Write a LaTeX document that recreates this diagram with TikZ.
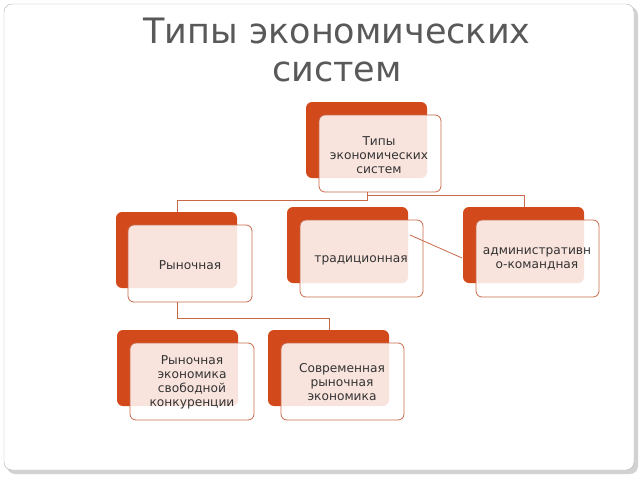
\documentclass[tikz,border=0pt]{standalone}
\usepackage{fontspec}
\setmainfont{DejaVu Sans}
\begin{document}
\begin{tikzpicture}[x=1pt,y=-1pt,
  back/.style={fill=dorange,rounded corners=6pt},
  front/.style={draw=lorange,line width=0.8pt,fill=white,fill opacity=0.85,rounded corners=6pt,text opacity=1,align=center,font=\fontsize{12.2}{14}\selectfont,text=black!80},
  link/.style={draw=lorange,line width=0.8pt}]
\definecolor{dorange}{HTML}{D2491C}
\definecolor{lorange}{HTML}{C86A4A}
\useasboundingbox (0,0) rectangle (640,480);
\fill[gray!35,rounded corners=8pt] (7,7) rectangle (638,474);
\draw[gray!60,fill=white,rounded corners=8pt] (4,4) rectangle (634,470);
\node[text=black!65,align=center,font=\fontsize{35}{38}\selectfont] (title) at (337,50) {Типы экономических\\систем};
\newcommand\ebox[9]{%
  \fill[back] (#1,#2) rectangle (#3,#4);
  \path[front] (#5,#6) rectangle (#7,#8) node[midway,draw=none,fill=none] (#9) {};}
\ebox{306}{102}{427}{178}{319}{115}{441}{192}{top}
\ebox{116}{212}{237}{288}{128}{225}{252}{302}{ryn}
\ebox{287}{207}{408}{283}{300}{220}{423}{297}{trad}
\ebox{463}{207}{584}{283}{476}{220}{599}{297}{adm}
\ebox{117}{330}{238}{406}{130}{343}{254}{420}{svob}
\ebox{268}{330}{389}{406}{281}{343}{404}{420}{sovr}
\node[front,draw=none,fill=none] at (379,155) {Типы\\экономических\\систем};
\node[front,draw=none,fill=none] at (190,265) {Рыночная};
\node[front,draw=none,fill=none] at (361,260) {традиционная};
\node[front,draw=none,fill=none] at (537,259) {административн\\о-командная};
\node[front,draw=none,fill=none] at (192,382) {Рыночная\\экономика\\свободной\\конкуренции};
\node[front,draw=none,fill=none] at (342,382) {Современная\\рыночная\\экономика};
\coordinate (a) at (367,192);
\draw[link] (a) -- (367,200) -- (177,200) -- (177,212);
\draw[link] (367,195) -- (524,195) -- (524,207);
\draw[link] (410,235) -- (462,258);
\draw[link] (177,302) -- (177,318) -- (329,318) -- (329,330);
\end{tikzpicture}
\end{document}
